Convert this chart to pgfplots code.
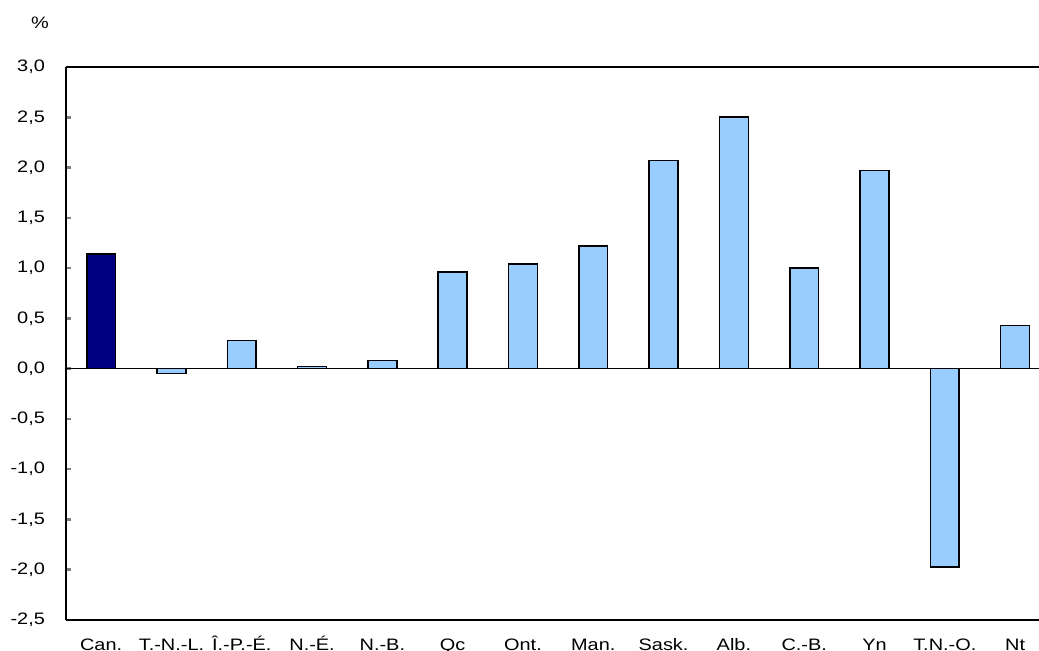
\documentclass[border=0pt]{standalone}
\usepackage{pgfplots}
\pgfplotsset{compat=1.18}
\usepackage{fontspec}
\setmainfont{Liberation Sans}[FakeStretch=1.2]
\definecolor{navybar}{HTML}{000080}
\definecolor{lightbar}{HTML}{99CCFF}
\begin{document}
\begin{tikzpicture}
\begin{axis}[name=ax, scale only axis, width=486.5pt, height=276.5pt,
  xmin=-0.5, xmax=13.34, ymin=-2.5, ymax=3.0,
  axis x line=box, axis y line=left,
  axis line style={-, line width=1.3pt},
  font=\fontsize{8.3}{9.5}\selectfont,
  ytick={-2.5,-2,...,3},
  xtick={0,...,13},
  xticklabels={Can.,T.-N.-L.,Î.-P.-É.,N.-É.,N.-B.,Qc,Ont.,Man.,Sask.,Alb.,C.-B.,Yn,T.N.-O.,Nt},
  xtick style={draw=none},
  ytick style={line width=1.3pt},
  tick align=inside, major tick length=2.5pt,
  yticklabel style={anchor=east, xshift=-7pt},
  xticklabel style={anchor=north, text height=8.4pt, text depth=0pt, inner sep=0pt, yshift=-4.4pt},
  /pgf/number format/.cd, use comma, fixed, fixed zerofill, precision=1, assume math mode=true,
  /pgfplots/.cd,
  extra y ticks={0}, extra y tick labels={},
  extra y tick style={grid=major, major grid style={black, line width=0.6pt}, major tick length=0pt},
  ybar, bar width=0.41, bar shift=0pt,
]
\addplot[draw=black, line width=0.8pt, fill=navybar] coordinates {(0,1.14)};
\addplot[draw=black, line width=0.8pt, fill=lightbar] coordinates {
 (1,-0.05) (2,0.28) (3,0.02) (4,0.08) (5,0.96) (6,1.04) (7,1.22)
 (8,2.07) (9,2.50) (10,1.00) (11,1.97) (12,-1.97) (13,0.43)};
\end{axis}
\node[font=\fontsize{8.3}{9.5}\selectfont] at ([xshift=-13pt,yshift=22pt]ax.north west) {\%};
\pgfresetboundingbox
\path[use as bounding box] ([xshift=-33pt,yshift=-15.5pt]ax.south west) rectangle ([yshift=33.5pt]ax.north east);
\end{tikzpicture}
\end{document}
